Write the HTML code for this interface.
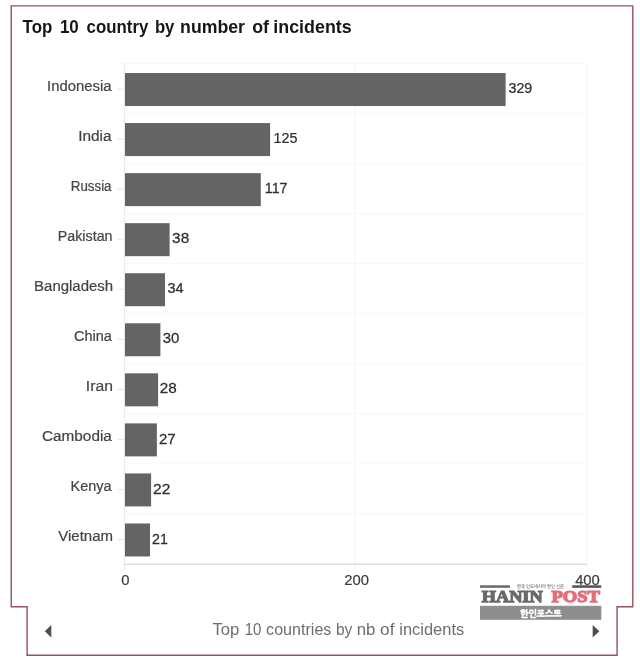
<!DOCTYPE html>
<html lang="en"><head><meta charset="utf-8"><title>Top 10 country by number of incidents</title>
<style>
html,body{margin:0;padding:0;background:#fff;}
body{width:640px;height:664px;overflow:hidden;position:relative;font-family:"Liberation Sans","NanumGothic",sans-serif;}
svg{position:absolute;left:0;top:0;display:block}
text{font-family:"Liberation Sans","NanumGothic",sans-serif;}
.lab{font-size:14px;fill:#444;stroke:#444;stroke-width:0.2px}
.val{font-size:14.8px;fill:#2e2e2e;stroke:#2e2e2e;stroke-width:0.25px}
.tick{font-size:14.8px;fill:#3c3c3c;text-anchor:middle;stroke:#3c3c3c;stroke-width:0.2px}
</style></head><body>
<svg width="640" height="664" viewBox="0 0 640 664">
<rect width="640" height="664" fill="#ffffff"/>
<path d="M11.25 5.9 H632.8 V606.7 H617.1 V655.2 H27.1 V606.7 H11.25 Z" fill="#fff" stroke="#95525c" stroke-width="1.4"/>
<text y="32.8" font-size="18.5" font-weight="700" fill="#161616"><tspan x="22.60" textLength="29.70" lengthAdjust="spacingAndGlyphs">Top</tspan> <tspan x="59.90" textLength="18.85" lengthAdjust="spacingAndGlyphs">10</tspan> <tspan x="86.60" textLength="61.70" lengthAdjust="spacingAndGlyphs">country</tspan> <tspan x="154.90" textLength="19.40" lengthAdjust="spacingAndGlyphs">by</tspan> <tspan x="180.10" textLength="64.85" lengthAdjust="spacingAndGlyphs">number</tspan> <tspan x="252.15" textLength="16.80" lengthAdjust="spacingAndGlyphs">of</tspan> <tspan x="273.30" textLength="78.40" lengthAdjust="spacingAndGlyphs">incidents</tspan></text>
<line x1="355.0" y1="63.5" x2="355.0" y2="569.25" stroke="#f4f4f4" stroke-width="1"/>
<line x1="587.0" y1="63.5" x2="587.0" y2="569.25" stroke="#f4f4f4" stroke-width="1"/>
<line x1="125.0" y1="63.5" x2="587.0" y2="63.5" stroke="#f7f7f7" stroke-width="1"/>
<line x1="125.0" y1="113.5" x2="587.0" y2="113.5" stroke="#f7f7f7" stroke-width="1"/>
<line x1="125.0" y1="163.6" x2="587.0" y2="163.6" stroke="#f7f7f7" stroke-width="1"/>
<line x1="125.0" y1="213.6" x2="587.0" y2="213.6" stroke="#f7f7f7" stroke-width="1"/>
<line x1="125.0" y1="263.7" x2="587.0" y2="263.7" stroke="#f7f7f7" stroke-width="1"/>
<line x1="125.0" y1="313.8" x2="587.0" y2="313.8" stroke="#f7f7f7" stroke-width="1"/>
<line x1="125.0" y1="363.8" x2="587.0" y2="363.8" stroke="#f7f7f7" stroke-width="1"/>
<line x1="125.0" y1="413.8" x2="587.0" y2="413.8" stroke="#f7f7f7" stroke-width="1"/>
<line x1="125.0" y1="463.9" x2="587.0" y2="463.9" stroke="#f7f7f7" stroke-width="1"/>
<line x1="125.0" y1="514.0" x2="587.0" y2="514.0" stroke="#f7f7f7" stroke-width="1"/>
<line x1="124.4" y1="63.0" x2="124.4" y2="569.75" stroke="#e8e8e8" stroke-width="1"/>
<line x1="124.0" y1="564.25" x2="587.0" y2="564.25" stroke="#d0d0d0" stroke-width="1"/>
<line x1="117.5" y1="89.1" x2="124" y2="89.1" stroke="#e4e4e4" stroke-width="1"/>
<rect x="125.0" y="73.03" width="380.6" height="33.0" fill="#646464"/>
<text class="lab" x="47.05" y="90.5" textLength="64.50" lengthAdjust="spacingAndGlyphs">Indonesia</text>
<text class="val" transform="translate(508.47 93.1) scale(0.965 1)">329</text>
<line x1="117.5" y1="139.2" x2="124" y2="139.2" stroke="#e4e4e4" stroke-width="1"/>
<rect x="125.0" y="123.07" width="145.1" height="33.0" fill="#646464"/>
<text class="lab" x="78.20" y="140.6" textLength="33.30" lengthAdjust="spacingAndGlyphs">India</text>
<text class="val" transform="translate(273.53 143.2) scale(0.97 1)">125</text>
<line x1="117.5" y1="189.2" x2="124" y2="189.2" stroke="#e4e4e4" stroke-width="1"/>
<rect x="125.0" y="173.12" width="135.8" height="33.0" fill="#646464"/>
<text class="lab" x="70.80" y="190.6" textLength="40.70" lengthAdjust="spacingAndGlyphs">Russia</text>
<text class="val" transform="translate(264.86 193.2) scale(0.96 1)">117</text>
<line x1="117.5" y1="239.3" x2="124" y2="239.3" stroke="#e4e4e4" stroke-width="1"/>
<rect x="125.0" y="223.17" width="44.6" height="33.0" fill="#646464"/>
<text class="lab" x="57.80" y="240.7" textLength="54.70" lengthAdjust="spacingAndGlyphs">Pakistan</text>
<text class="val" transform="translate(172.08 243.3) scale(1.04 1)">38</text>
<line x1="117.5" y1="289.3" x2="124" y2="289.3" stroke="#e4e4e4" stroke-width="1"/>
<rect x="125.0" y="273.23" width="40.0" height="33.0" fill="#646464"/>
<text class="lab" x="34.10" y="290.7" textLength="79.05" lengthAdjust="spacingAndGlyphs">Bangladesh</text>
<text class="val" transform="translate(167.44 293.3) scale(0.98 1)">34</text>
<line x1="117.5" y1="339.4" x2="124" y2="339.4" stroke="#e4e4e4" stroke-width="1"/>
<rect x="125.0" y="323.27" width="35.4" height="33.0" fill="#646464"/>
<text class="lab" x="73.95" y="340.8" textLength="37.95" lengthAdjust="spacingAndGlyphs">China</text>
<text class="val" transform="translate(162.8 343.4) scale(1.01 1)">30</text>
<line x1="117.5" y1="389.4" x2="124" y2="389.4" stroke="#e4e4e4" stroke-width="1"/>
<rect x="125.0" y="373.32" width="33.1" height="33.0" fill="#646464"/>
<text class="lab" x="85.85" y="390.8" textLength="27.05" lengthAdjust="spacingAndGlyphs">Iran</text>
<text class="val" transform="translate(159.76 393.4) scale(1.03 1)">28</text>
<line x1="117.5" y1="439.5" x2="124" y2="439.5" stroke="#e4e4e4" stroke-width="1"/>
<rect x="125.0" y="423.38" width="31.9" height="33.0" fill="#646464"/>
<text class="lab" x="41.95" y="440.9" textLength="69.95" lengthAdjust="spacingAndGlyphs">Cambodia</text>
<text class="val" transform="translate(158.97 443.5) scale(1.02 1)">27</text>
<line x1="117.5" y1="489.5" x2="124" y2="489.5" stroke="#e4e4e4" stroke-width="1"/>
<rect x="125.0" y="473.42" width="26.1" height="33.0" fill="#646464"/>
<text class="lab" x="70.55" y="490.9" textLength="40.95" lengthAdjust="spacingAndGlyphs">Kenya</text>
<text class="val" transform="translate(153.02 493.5) scale(1.05 1)">22</text>
<line x1="117.5" y1="539.6" x2="124" y2="539.6" stroke="#e4e4e4" stroke-width="1"/>
<rect x="125.0" y="523.47" width="25.0" height="33.0" fill="#646464"/>
<text class="lab" x="58.25" y="541.0" textLength="54.80" lengthAdjust="spacingAndGlyphs">Vietnam</text>
<text class="val" transform="translate(152.08 543.6) scale(0.96 1)">21</text>
<text class="tick" x="125.4" y="584.9">0</text>
<text class="tick" x="356.6" y="584.9">200</text>
<text class="tick" x="587.5" y="584.9">400</text>
<text y="634.7" font-size="15.6" fill="#6e6e6e"><tspan x="212.40" textLength="26.90" lengthAdjust="spacingAndGlyphs">Top</tspan> <tspan x="244.70" textLength="16.75" lengthAdjust="spacingAndGlyphs">10</tspan> <tspan x="266.10" textLength="65.30" lengthAdjust="spacingAndGlyphs">countries</tspan> <tspan x="335.95" textLength="16.40" lengthAdjust="spacingAndGlyphs">by</tspan> <tspan x="356.65" textLength="18.70" lengthAdjust="spacingAndGlyphs">nb</tspan> <tspan x="380.10" textLength="14.40" lengthAdjust="spacingAndGlyphs">of</tspan> <tspan x="399.30" textLength="64.90" lengthAdjust="spacingAndGlyphs">incidents</tspan></text>
<path d="M51.3 625 L51.3 637.4 L44.8 631.2 Z" fill="#4e4e4e"/>
<path d="M592.7 625 L592.7 637.4 L599.3 631.2 Z" fill="#4e4e4e"/>
<g id="logo">
<rect x="480" y="585.3" width="30" height="2.5" fill="#6a6a6a"/>
<rect x="572.2" y="585.3" width="29" height="2.5" fill="#505050"/>
<text x="540.5" y="587.6" font-size="4.6" fill="#7a7a7a" text-anchor="middle" font-weight="700" textLength="47" lengthAdjust="spacingAndGlyphs">한국 인도네시아 한인 신문</text>
<text x="481.7" y="602.1" style="font-family:'Liberation Serif','DejaVu Serif',serif" font-size="17.6" font-weight="700" fill="#696969" stroke="#696969" stroke-width="1.25" stroke-linejoin="miter" textLength="61" lengthAdjust="spacingAndGlyphs">HANIN</text>
<text x="551.4" y="602.1" style="font-family:'Liberation Serif','DejaVu Serif',serif" font-size="17.6" font-weight="700" fill="#e56d76" stroke="#e56d76" stroke-width="1.25" stroke-linejoin="miter" textLength="48.6" lengthAdjust="spacingAndGlyphs">POST</text>
<rect x="480" y="605.8" width="121.3" height="14" fill="#8e8e8e"/>
<text x="540.9" y="616.7" font-size="9.3" font-weight="700" fill="#ffffff" stroke="#ffffff" stroke-width="0.55" text-anchor="middle" textLength="41.5" lengthAdjust="spacingAndGlyphs" style="font-family:'Liberation Sans','NanumGothic',sans-serif">한인포스트</text>
</g>
</svg>
</body></html>
